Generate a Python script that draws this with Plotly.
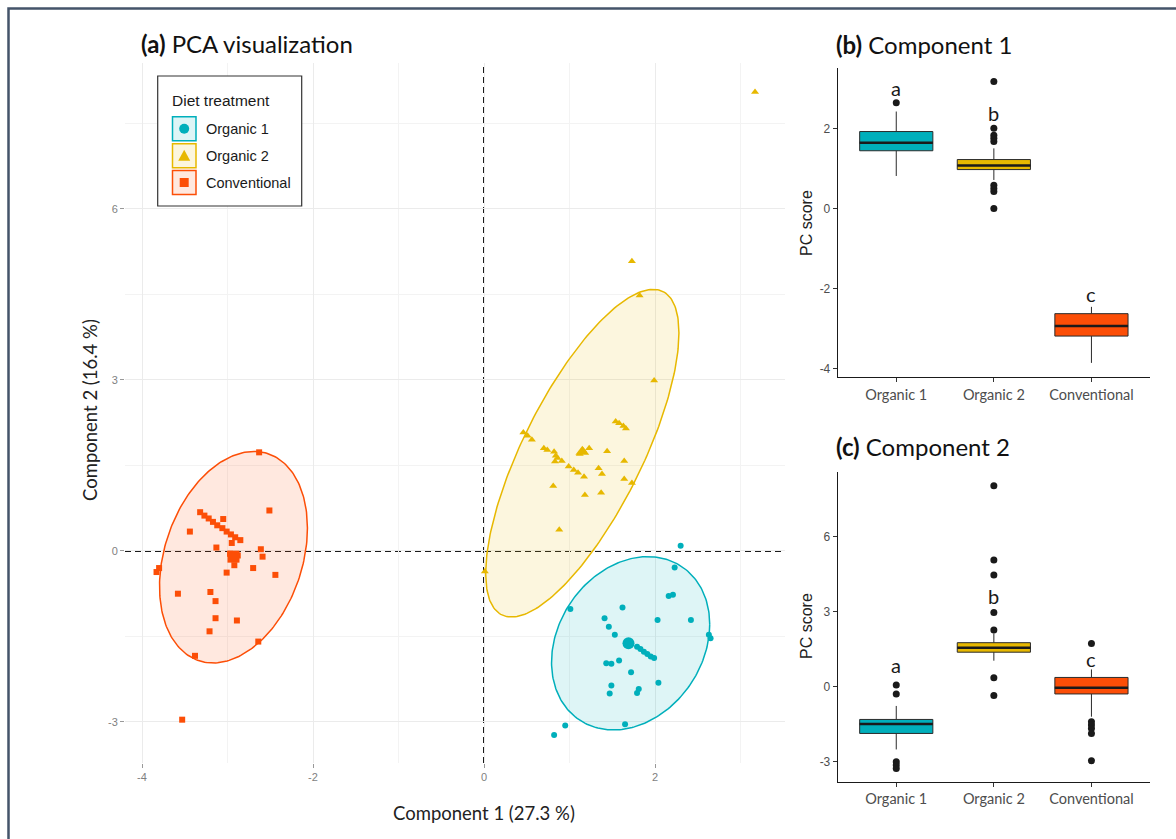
import numpy as np
import plotly.graph_objects as go

W, H = 1176, 839

# ---------------- data ----------------
groups = ["Organic 1", "Organic 2", "Conventional"]
colors = ["#00AFBB", "#E7B800", "#FC4E07"]
symbols = ["circle", "triangle-up", "square"]

org1_x = [2.30, 2.23, 2.16, 2.21, 1.01, 1.62, 1.41, 1.46, 2.03, 2.42, 1.53, 2.63, 2.65,
          1.79, 1.83, 1.87, 1.91, 1.95, 1.99, 1.43, 1.49, 1.58, 1.72, 2.04, 1.49, 1.47,
          1.81, 1.79, 1.65, 0.95, 0.82]
org1_y = [0.09, -0.29, -0.79, -0.77, -1.02, -0.99, -1.18, -1.33, -1.21, -1.21, -1.47, -1.47, -1.53,
          -1.68, -1.72, -1.77, -1.81, -1.85, -1.88, -1.97, -1.98, -1.92, -2.13, -2.31, -2.36, -2.50,
          -2.42, -2.49, -3.04, -3.06, -3.23]

org2_x = [1.73, 1.82, 1.99, 1.54, 1.58, 1.63, 1.66, 0.46, 0.51, 0.56, 0.70, 0.74, 0.82, 0.84,
          0.86, 0.91, 0.83, 1.23, 1.44, 0.99, 1.05, 1.10, 1.17, 1.34, 1.38, 1.64, 1.64, 1.73,
          0.81, 1.18, 1.37, 0.88, 3.17, 0.01, 1.12, 1.16]
org2_y = [5.08, 4.48, 2.99, 2.27, 2.24, 2.19, 2.15, 2.08, 2.02, 1.95, 1.80, 1.77, 1.74, 1.67,
          1.63, 1.58, 1.57, 1.80, 1.75, 1.48, 1.42, 1.37, 1.30, 1.45, 1.35, 1.58, 1.26, 1.19,
          1.14, 0.98, 1.02, 0.37, 8.05, -0.36, 1.70, 1.76]

conv_x = [-2.63, -2.51, -3.32, -3.27, -3.22, -3.17, -3.12, -3.06, -3.01, -2.96, -2.91, -2.85,
          -3.05, -3.44, -2.95, -3.13, -2.61, -2.59, -2.92, -3.01, -2.70, -2.44, -3.80, -3.83,
          -3.58, -3.20, -3.14, -3.14, -2.89, -3.21, -2.64, -3.38, -3.53, -2.97, -2.90, -2.88]
conv_y = [1.73, 0.71, 0.68, 0.62, 0.57, 0.51, 0.45, 0.40, 0.34, 0.29, 0.24, 0.19,
          0.56, 0.34, 0.14, 0.06, 0.03, -0.10, -0.25, -0.38, -0.30, -0.42, -0.30, -0.37,
          -0.75, -0.72, -0.88, -1.18, -1.22, -1.41, -1.59, -1.84, -2.96, -0.05, -0.12, -0.08]

centroid_x = [1.69, 1.15, -2.93]
centroid_y = [-1.62, 1.74, -0.10]

# ellipse parameters: centre, half extents, phase
ell_cx = [1.715, 1.15, -2.93]
ell_cy = [-1.62, 1.715, -0.11]
ell_sx = [0.925, 1.13, 0.865]
ell_sy = [1.52, 2.875, 1.855]
ell_phi = [0.22, 0.823, 0.28]

# boxplot stats: PC1
pc1_low = [0.81, 0.71, -3.86]
pc1_q1 = [1.44, 0.97, -3.19]
pc1_med = [1.64, 1.07, -2.94]
pc1_q3 = [1.92, 1.22, -2.63]
pc1_high = [2.42, 1.50, -2.46]
pc1_out = [[2.64], [3.17, 2.0, 1.83, 1.75, 1.67, 0.58, 0.50, 0.42, 0.0], []]
pc1_letters = ["a", "b", "c"]
pc1_letter_y = [3.0, 2.39, -2.14]

# boxplot stats: PC2
pc2_low = [-2.51, 1.04, -1.20]
pc2_q1 = [-1.87, 1.38, -0.29]
pc2_med = [-1.49, 1.56, -0.04]
pc2_q3 = [-1.31, 1.76, 0.37]
pc2_high = [-0.77, 2.13, 0.69]
pc2_out = [[0.07, -0.29, -3.0, -3.13, -3.27], [8.04, 5.07, 4.47, 2.97, 2.27, 0.36, -0.35],
           [1.73, -1.4, -1.53, -1.67, -1.87, -2.96]]
pc2_letters = ["a", "b", "c"]
pc2_letter_y = [0.87, 3.64, 1.1]

pca_x_ticks = [-4, -2, 0, 2]
pca_y_ticks = [-3, 0, 3, 6]
pc1_ticks = [-4, -2, 0, 2]
pc2_ticks = [-3, 0, 3, 6]

# ---------------- helpers ----------------
def px(x):
    return x / W


def py(y):
    return 1 - y / H


def rgba(hexc, a):
    h = hexc.lstrip("#")
    r, g, b = int(h[0:2], 16), int(h[2:4], 16), int(h[4:6], 16)
    return f"rgba({r},{g},{b},{a})"


def labels(vals):
    return [str(v) for v in vals]


fig = go.Figure()

# ---------------- panel (a) ----------------
t = np.linspace(0, 2 * np.pi, 240)
for i in range(3):
    ex = ell_cx[i] + ell_sx[i] * np.cos(t)
    ey = ell_cy[i] + ell_sy[i] * np.sin(t + ell_phi[i])
    fig.add_trace(go.Scatter(x=ex, y=ey, mode="lines", fill="toself",
                             fillcolor=rgba(colors[i], 0.13),
                             line=dict(color=colors[i], width=1.5),
                             xaxis="x", yaxis="y", hoverinfo="skip"))

pts = [(org1_x, org1_y), (org2_x, org2_y), (conv_x, conv_y)]
sizes = [6, 7, 6]
for i, (xs, ys) in enumerate(pts):
    fig.add_trace(go.Scatter(x=xs, y=ys, mode="markers",
                             marker=dict(symbol=symbols[i], size=sizes[i], color=colors[i]),
                             xaxis="x", yaxis="y", name=groups[i]))
for i in range(3):
    fig.add_trace(go.Scatter(x=[centroid_x[i]], y=[centroid_y[i]], mode="markers",
                             marker=dict(symbol=symbols[i], size=12, color=colors[i]),
                             xaxis="x", yaxis="y"))

# ---------------- panels (b) and (c) ----------------
def add_boxes(xa, ya, low, q1, med, q3, high, outs):
    for i in range(3):
        fig.add_trace(go.Box(x=[i], q1=[q1[i]], median=[med[i]], q3=[q3[i]],
                             lowerfence=[low[i]], upperfence=[high[i]],
                             width=0.75, whiskerwidth=0, boxpoints=False,
                             fillcolor=colors[i], line=dict(color="#2b2b2b", width=1),
                             xaxis=xa, yaxis=ya))
        fig.add_trace(go.Scatter(x=[i - 0.375, i + 0.375], y=[med[i], med[i]], mode="lines",
                                 line=dict(color="#1a1a1a", width=2.6),
                                 xaxis=xa, yaxis=ya, hoverinfo="skip"))
        if outs[i]:
            fig.add_trace(go.Scatter(x=[i] * len(outs[i]), y=outs[i], mode="markers",
                                     marker=dict(color="#1a1a1a", size=7),
                                     xaxis=xa, yaxis=ya))


add_boxes("x2", "y2", pc1_low, pc1_q1, pc1_med, pc1_q3, pc1_high, pc1_out)
add_boxes("x3", "y3", pc2_low, pc2_q1, pc2_med, pc2_q3, pc2_high, pc2_out)

annotations = []
for i in range(3):
    annotations.append(dict(x=i, y=pc1_letter_y[i], xref="x2", yref="y2", text=pc1_letters[i],
                            showarrow=False, font=dict(family="Lato", size=20, color="#1a1a1a")))
    annotations.append(dict(x=i, y=pc2_letter_y[i], xref="x3", yref="y3", text=pc2_letters[i],
                            showarrow=False, font=dict(family="Lato", size=20, color="#1a1a1a")))

# titles
title_font = dict(family="Lato", size=24, color="#111")
annotations += [
    dict(x=px(139), y=py(44), xref="paper", yref="paper", xanchor="left", yanchor="middle",
         text="<b>(a)</b> PCA visualization", showarrow=False, font=title_font),
    dict(x=px(834), y=py(45), xref="paper", yref="paper", xanchor="left", yanchor="middle",
         text="<b>(b)</b> Component 1", showarrow=False, font=title_font),
    dict(x=px(834), y=py(446), xref="paper", yref="paper", xanchor="left", yanchor="middle",
         text="<b>(c)</b> Component 2", showarrow=False, font=title_font),
    dict(x=px(484), y=py(813), xref="paper", yref="paper", xanchor="center", yanchor="middle",
         text="Component 1 (27.3 %)", showarrow=False,
         font=dict(family="Lato", size=18.5, color="#222")),
    dict(x=px(90), y=py(410), xref="paper", yref="paper", xanchor="center", yanchor="middle",
         text="Component 2 (16.4 %)", showarrow=False, textangle=-90,
         font=dict(family="Lato", size=18.5, color="#222")),
    dict(x=px(806), y=py(223), xref="paper", yref="paper", xanchor="center", yanchor="middle",
         text="PC score", showarrow=False, textangle=-90,
         font=dict(family="Liberation Sans", size=16, color="#222")),
    dict(x=px(806), y=py(626), xref="paper", yref="paper", xanchor="center", yanchor="middle",
         text="PC score", showarrow=False, textangle=-90,
         font=dict(family="Liberation Sans", size=16, color="#222")),
]

# ---------------- legend (manual) ----------------
shapes = []
shapes.append(dict(type="rect", xref="paper", yref="paper", x0=px(157.7), x1=px(301.7),
                   y0=py(206), y1=py(76), line=dict(color="#333", width=1.2),
                   fillcolor="white", layer="above"))
annotations.append(dict(x=px(170), y=py(100), xref="paper", yref="paper", xanchor="left",
                        yanchor="middle", text="Diet treatment", showarrow=False,
                        font=dict(family="Liberation Sans", size=15.5, color="#1a1a1a")))
key_cy = [128.7, 155.7, 182.5]
for i in range(3):
    c = key_cy[i]
    shapes.append(dict(type="rect", xref="paper", yref="paper", x0=px(172.5), x1=px(196),
                       y0=py(c + 12), y1=py(c - 12), line=dict(color=colors[i], width=1.5),
                       fillcolor=rgba(colors[i], 0.13), layer="above"))
    cx = 184.2
    if i == 0:
        shapes.append(dict(type="circle", xref="paper", yref="paper", x0=px(cx - 5), x1=px(cx + 5),
                           y0=py(c + 5), y1=py(c - 5), line=dict(width=0),
                           fillcolor=colors[i], layer="above"))
    elif i == 1:
        path = (f"M {px(cx - 6)} {py(c + 5)} L {px(cx + 6)} {py(c + 5)} "
                f"L {px(cx)} {py(c - 6)} Z")
        shapes.append(dict(type="path", xref="paper", yref="paper", path=path,
                           line=dict(width=0), fillcolor=colors[i], layer="above"))
    else:
        shapes.append(dict(type="rect", xref="paper", yref="paper", x0=px(cx - 4.5), x1=px(cx + 4.5),
                           y0=py(c + 4.5), y1=py(c - 4.5), line=dict(width=0),
                           fillcolor=colors[i], layer="above"))
    annotations.append(dict(x=px(204), y=py(c), xref="paper", yref="paper", xanchor="left",
                            yanchor="middle", text=groups[i], showarrow=False,
                            font=dict(family="Liberation Sans", size=14.5, color="#1a1a1a")))

# dashed reference lines
shapes.append(dict(type="line", xref="x", yref="y domain", x0=0, x1=0, y0=0, y1=1,
                   line=dict(color="#1a1a1a", width=2, dash="6px,4px"), layer="below"))
shapes.append(dict(type="line", xref="x domain", yref="y", x0=0, x1=1, y0=0, y1=0,
                   line=dict(color="#1a1a1a", width=2, dash="6px,4px"), layer="below"))

# outer frame
shapes.append(dict(type="rect", xref="paper", yref="paper", x0=px(8.5), x1=1.02,
                   y0=-0.02, y1=py(8.5), line=dict(color="#44546A", width=2.5), layer="above"))

tick_a = dict(family="Liberation Sans", size=11, color="#7F7F7F")
tick_bc = dict(family="Liberation Sans", size=12, color="#4D4D4D")
cat_font = dict(family="Lato", size=14.5, color="#4D4D4D")

fig.update_layout(
    width=W, height=H, autosize=False,
    margin=dict(l=0, r=0, t=0, b=0),
    paper_bgcolor="white", plot_bgcolor="white",
    showlegend=False,
    shapes=shapes, annotations=annotations,
    xaxis=dict(domain=[px(125), px(785)], range=[-4.1988, 3.5205], tickvals=pca_x_ticks,
               ticktext=labels(pca_x_ticks),
               showgrid=True, gridcolor="#EBEBEB", gridwidth=1,
               minor=dict(dtick=1, showgrid=True, gridcolor="#F3F3F3", gridwidth=1),
               zeroline=False, showline=False, ticks="outside", ticklen=4, tickcolor="#999",
               tickfont=tick_a, anchor="y"),
    yaxis=dict(domain=[py(763), py(63)], range=[-3.72, 8.56], tickvals=pca_y_ticks,
               ticktext=labels(pca_y_ticks),
               showgrid=True, gridcolor="#EBEBEB", gridwidth=1,
               minor=dict(dtick=1.5, showgrid=True, gridcolor="#F3F3F3", gridwidth=1),
               zeroline=False, showline=False, ticks="outside", ticklen=4, tickcolor="#999",
               tickfont=tick_a, anchor="x"),
    xaxis2=dict(domain=[px(837.7), px(1150)], range=[-0.6, 2.6], tickvals=[0, 1, 2],
                ticktext=groups, showgrid=False, zeroline=False, showline=True,
                linecolor="#1a1a1a", linewidth=1, ticks="outside", ticklen=4, tickcolor="#333",
                tickfont=cat_font, anchor="y2"),
    yaxis2=dict(domain=[py(377.3), py(68.3)], range=[-4.22, 3.5], tickvals=pc1_ticks,
                ticktext=labels(pc1_ticks),
                showgrid=False, zeroline=False, showline=True, linecolor="#1a1a1a", linewidth=1,
                ticks="outside", ticklen=4, tickcolor="#333", tickfont=tick_bc, anchor="x2"),
    xaxis3=dict(domain=[px(837.7), px(1150)], range=[-0.6, 2.6], tickvals=[0, 1, 2],
                ticktext=groups, showgrid=False, zeroline=False, showline=True,
                linecolor="#1a1a1a", linewidth=1, ticks="outside", ticklen=4, tickcolor="#333",
                tickfont=cat_font, anchor="y3"),
    yaxis3=dict(domain=[py(781.7), py(471.7)], range=[-3.8, 8.6], tickvals=pc2_ticks,
                ticktext=labels(pc2_ticks),
                showgrid=False, zeroline=False, showline=True, linecolor="#1a1a1a", linewidth=1,
                ticks="outside", ticklen=4, tickcolor="#333", tickfont=tick_bc, anchor="x3"),
)

fig.write_html("out.html")
